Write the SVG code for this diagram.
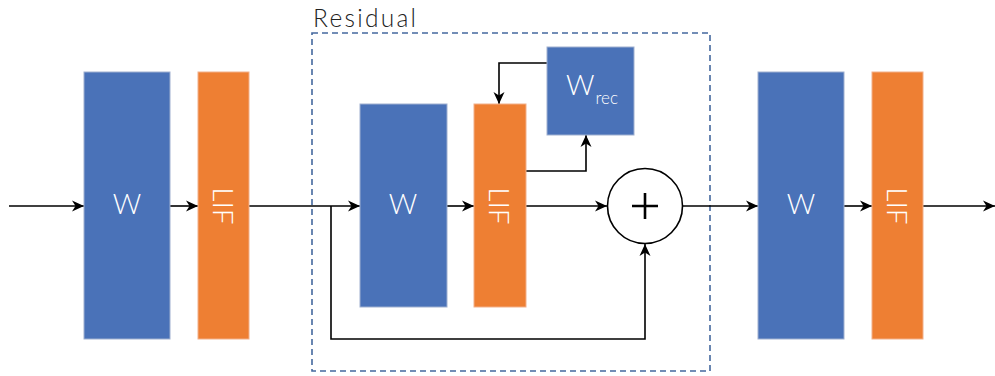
<svg xmlns="http://www.w3.org/2000/svg" width="995" height="376" viewBox="0 0 995 376">
<defs>
<marker id="arr" markerUnits="userSpaceOnUse" markerWidth="13" markerHeight="12" refX="12" refY="6" orient="auto">
<path d="M0,0.5 L12,6 L0,11.5 L3.5,6 z" fill="#000"/>
</marker>
</defs>
<style>
.w{fill:#4A72B8;stroke:#9FB0D0;stroke-width:1}
.l{fill:#EE7F33;stroke:#F2B08A;stroke-width:1}
.t{font-family:Lato,"Open Sans","Liberation Sans",sans-serif;font-weight:300;fill:#fff;font-size:28px}
.c{fill:none;stroke:#000;stroke-width:1.6}
.a{marker-end:url(#arr)}
</style>
<rect width="995" height="376" fill="#fff"/>
<g id="residual">
<rect x="312" y="33" width="398" height="338" fill="none" stroke="#44689E" stroke-width="1.6" stroke-dasharray="6,4"/>
<text x="313" y="27" font-family="Lato,'Open Sans','Liberation Sans',sans-serif" font-weight="300" font-size="24.5" fill="#222" textLength="103" lengthAdjust="spacing">Residual</text>
</g>
<g id="connectors">
<line class="c a" x1="9" y1="206" x2="84" y2="206"/>
<line class="c a" x1="170" y1="206" x2="198" y2="206"/>
<line class="c a" x1="249" y1="206" x2="360" y2="206"/>
<line class="c a" x1="446" y1="206" x2="474" y2="206"/>
<line class="c a" x1="526" y1="206" x2="607" y2="206"/>
<line class="c a" x1="683" y1="206" x2="758" y2="206"/>
<line class="c a" x1="844" y1="206" x2="872" y2="206"/>
<line class="c a" x1="923" y1="206" x2="995" y2="206"/>
<polyline class="c a" points="331,206 331,339 645,339 645,244"/>
<polyline class="c a" points="526,171 586,171 586,135"/>
<polyline class="c a" points="547,63 499,63 499,104"/>
</g>
<g id="w1"><rect class="w" x="84" y="72" width="86" height="267"/><text class="t" x="127" y="214" text-anchor="middle">W</text></g>
<g id="lif1"><rect class="l" x="198" y="72" width="51" height="267"/><text class="t" transform="translate(213,206) rotate(90)" text-anchor="middle">LIF</text></g>
<g id="w2"><rect class="w" x="360" y="104" width="87" height="203"/><text class="t" x="403" y="214" text-anchor="middle">W</text></g>
<g id="lif2"><rect class="l" x="474" y="104" width="52" height="203"/><text class="t" transform="translate(489,206) rotate(90)" text-anchor="middle">LIF</text></g>
<g id="wrec"><rect class="w" x="547" y="47" width="87" height="88"/><text class="t" x="566" y="95" font-size="27">W<tspan font-size="17" dy="9" dx="1">rec</tspan></text></g>
<g id="sum"><circle cx="645" cy="206" r="37.5" fill="#fff" stroke="#000" stroke-width="1.6"/><path d="M632,206 H658 M645,193 V219" stroke="#000" stroke-width="2.6" fill="none"/></g>
<g id="w3"><rect class="w" x="758" y="72" width="86" height="267"/><text class="t" x="801" y="214" text-anchor="middle">W</text></g>
<g id="lif3"><rect class="l" x="872" y="72" width="51" height="267"/><text class="t" transform="translate(887,206) rotate(90)" text-anchor="middle">LIF</text></g>
</svg>
